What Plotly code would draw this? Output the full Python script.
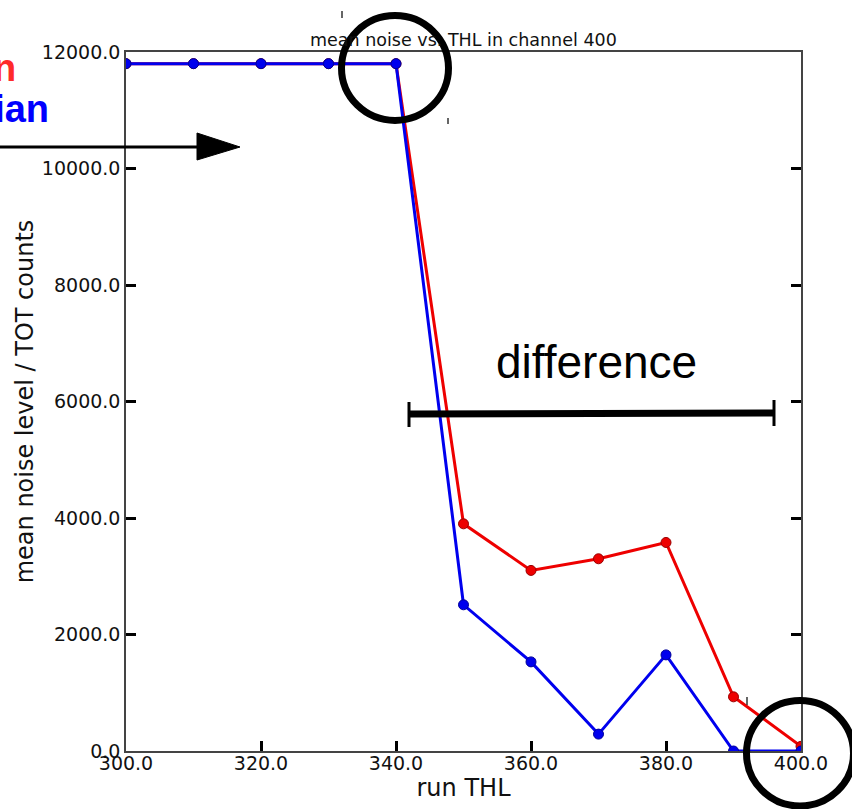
import plotly.graph_objects as go

# ---- data ----
thl = [300, 310, 320, 330, 340, 350, 360, 370, 380, 390, 400]
mean_noise = [11800, 11800, 11800, 11800, 11800, 3900, 3100, 3300, 3580, 930, 80]
median_noise = [11800, 11800, 11800, 11800, 11800, 2510, 1530, 290, 1650, 0, 0]
x_ticks = [300, 320, 340, 360, 380, 400]
y_ticks = [0, 2000, 4000, 6000, 8000, 10000, 12000]

W, H = 852, 809
L, R, T, B = 126, 801, 52, 751


def px(x):
    return (x - L) / (R - L)


def py(y):
    return (B - y) / (B - T)


fig = go.Figure()
fig.add_trace(go.Scatter(
    x=thl, y=mean_noise, mode="lines+markers", name="mean",
    line=dict(color="#ee0000", width=3),
    marker=dict(color="#ee0000", size=10, line=dict(color="#990000", width=1)),
))
fig.add_trace(go.Scatter(
    x=thl, y=median_noise, mode="lines+markers", name="median",
    line=dict(color="#0000ee", width=3),
    marker=dict(color="#0000ee", size=10, line=dict(color="#000099", width=1)),
))

tickfont = dict(family="DejaVu Sans", size=19, color="#111111")
fig.update_xaxes(
    range=[300, 400], tickvals=x_ticks, ticktext=[f"{v:.1f}" for v in x_ticks],
    ticks="inside", ticklen=10, tickwidth=3, tickcolor="black",
    showline=True, linecolor="#444444", linewidth=1.5, mirror=True,
    showgrid=False, zeroline=False, tickfont=tickfont, ticklabelstandoff=-6,
    title=dict(text="run THL", font=dict(family="DejaVu Sans", size=24, color="#111111"), standoff=0),
)
fig.update_yaxes(
    range=[0, 12000], tickvals=y_ticks, ticktext=[f"{v:.1f}" for v in y_ticks],
    ticks="inside", ticklen=10, tickwidth=3, tickcolor="black",
    showline=True, linecolor="#444444", linewidth=1.5, mirror="ticks",
    showgrid=False, zeroline=False, tickfont=tickfont,
    title=dict(text="mean noise level / TOT counts", font=dict(family="DejaVu Sans", size=24, color="#111111"), standoff=1),
)

ann = []
ann.append(dict(x=0.5, y=py(40), xref="paper", yref="paper", text="mean noise vs. THL in channel 400",
                showarrow=False, xanchor="center", yanchor="middle",
                font=dict(family="DejaVu Sans", size=17.5, color="#111111")))
ann.append(dict(x=px(18), y=py(68), xref="paper", yref="paper", text="<b>mean</b>",
                showarrow=False, xanchor="right", yanchor="middle",
                font=dict(family="Liberation Sans", size=38, color="#ff2a2a")))
ann.append(dict(x=px(51), y=py(109), xref="paper", yref="paper", text="<b>median</b>",
                showarrow=False, xanchor="right", yanchor="middle",
                font=dict(family="Liberation Sans", size=38, color="#0000ff")))
ann.append(dict(x=px(596), y=py(362), xref="paper", yref="paper", text="difference",
                showarrow=False, xanchor="center", yanchor="middle",
                font=dict(family="Liberation Sans", size=46, color="black")))

shapes = []
# arrow
shapes.append(dict(type="line", xref="paper", yref="paper", x0=px(-5), x1=px(200), y0=py(147), y1=py(147),
                   line=dict(color="black", width=3)))
shapes.append(dict(type="path", xref="paper", yref="paper",
                   path=f"M {px(197)} {py(133)} L {px(240)} {py(147)} L {px(197)} {py(160)} Z",
                   fillcolor="black", line=dict(color="black", width=1)))
# circles
shapes.append(dict(type="circle", xref="paper", yref="paper", x0=px(341.5), x1=px(448.5), y0=py(120.5), y1=py(15.5),
                   line=dict(color="black", width=7)))
shapes.append(dict(type="circle", xref="paper", yref="paper", x0=px(746.5), x1=px(853.5), y0=py(806), y1=py(700.5),
                   line=dict(color="black", width=7)))
# difference bar
shapes.append(dict(type="line", xref="paper", yref="paper", x0=px(409), x1=px(774), y0=py(414), y1=py(413),
                   line=dict(color="black", width=7)))
shapes.append(dict(type="line", xref="paper", yref="paper", x0=px(409), x1=px(409), y0=py(402), y1=py(427),
                   line=dict(color="black", width=3)))
shapes.append(dict(type="line", xref="paper", yref="paper", x0=px(774), x1=px(774), y0=py(400), y1=py(426),
                   line=dict(color="black", width=3)))
# small stray marks
for (mx, my0, my1) in [(342, 11, 18), (448, 118, 124), (747, 697, 705)]:
    shapes.append(dict(type="line", xref="paper", yref="paper", x0=px(mx), x1=px(mx), y0=py(my0), y1=py(my1),
                       line=dict(color="#333333", width=1.5)))

fig.update_layout(
    width=W, height=H,
    margin=dict(l=L, r=W - R, t=T, b=H - B, pad=0),
    paper_bgcolor="white", plot_bgcolor="white",
    showlegend=False,
    annotations=ann, shapes=shapes,
)

fig.write_html("out.html")
